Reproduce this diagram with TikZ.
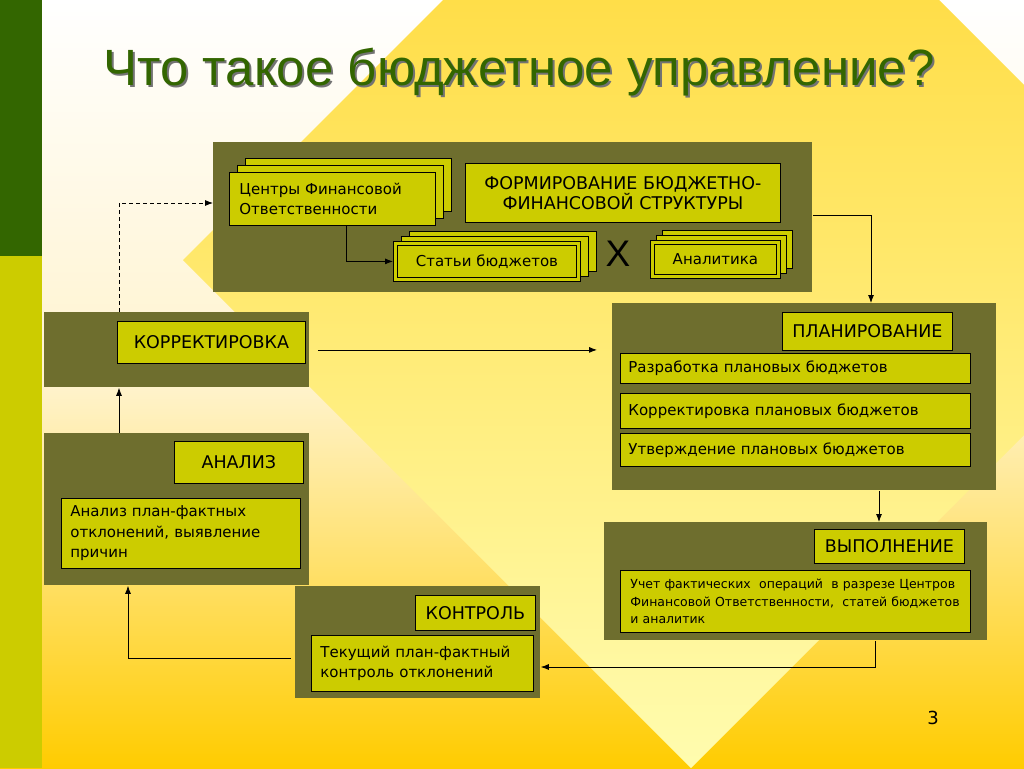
\documentclass[tikz,border=0pt]{standalone}
\usepackage{fontspec}
\setmainfont{DejaVu Sans}
\newfontfamily\headfont{Liberation Sans}
\usetikzlibrary{calc,arrows.meta,positioning}
\definecolor{panelcol}{RGB}{110,110,46}
\definecolor{boxcol}{RGB}{204,204,0}
\definecolor{titlegreen}{RGB}{51,102,0}
\definecolor{barcol}{RGB}{204,204,0}
\definecolor{gold}{RGB}{255,204,0}
\definecolor{cream}{RGB}{255,243,205}
\definecolor{diamondtop}{RGB}{255,212,40}
\definecolor{diamondbottom}{RGB}{255,252,175}

\begin{document}
\begin{tikzpicture}[x=1pt, y=-1pt, >={Latex[length=8pt,width=6pt]}, line width=0.8pt, every node/.style={inner sep=0pt}]
    % Define styles for panels, boxes and texts
    \tikzstyle{panel} = [fill=panelcol, anchor=north west]
    \tikzstyle{box} = [draw=black, fill=boxcol, anchor=north west]
    \tikzstyle{head} = [box, align=center, font=\fontsize{17.5}{20}\selectfont]
    \tikzstyle{note} = [box, align=left, inner xsep=8pt, font=\fontsize{15}{20.5}\selectfont]

    % Background
    \useasboundingbox (0,0) rectangle (1024,768);
    \shade[top color=white, bottom color=gold, middle color=cream] (0,0) rectangle (1024,768);
    \begin{scope}
        \clip (0,0) rectangle (1024,768);
        \shade[top color=diamondtop, bottom color=diamondbottom] (691,-248) -- (1199,260) -- (691,768) -- (183,260) -- cycle;
    \end{scope}
    \fill[titlegreen] (0,0) rectangle (42,256);
    \fill[barcol] (0,256) rectangle (42,768);

    % Title
    \node[text=black!55, font=\headfont\fontsize{51}{60}\selectfont] (titleshadow) at (521,74) {Что такое бюджетное управление?};
    \node[text=titlegreen, font=\headfont\fontsize{51}{60}\selectfont] (title) at (519,72) {Что такое бюджетное управление?};

    % Panels
    \node[panel, minimum width=599pt, minimum height=150pt] (formpanel) at (213,142) {};
    \node[panel, minimum width=265pt, minimum height=75pt] (korrpanel) at (44,312) {};
    \node[panel, minimum width=265pt, minimum height=152pt] (anpanel) at (44,433) {};
    \node[panel, minimum width=245pt, minimum height=112pt] (ctrlpanel) at (295,586) {};
    \node[panel, minimum width=384pt, minimum height=187pt] (planpanel) at (612,303) {};
    \node[panel, minimum width=383pt, minimum height=118pt] (execpanel) at (604,522) {};

    % Budget structure
    \node[box, minimum width=206pt, minimum height=53pt] (cfoback2) at (245,158) {};
    \node[box, minimum width=206pt, minimum height=53pt] (cfoback1) at (237,165) {};
    \node[note, text width=186pt, minimum height=53pt, inner xsep=10pt] (cfo) at (229,172) {Центры Финансовой\\Ответственности};
    \node[head, minimum width=315pt, minimum height=59pt] (formtitle) at (465,163) {ФОРМИРОВАНИЕ БЮДЖЕТНО-\\ФИНАНСОВОЙ СТРУКТУРЫ};

    \node[box, minimum width=187pt, minimum height=40pt] (statback2) at (409,231) {};
    \node[box, minimum width=187pt, minimum height=40pt] (statback1) at (401,236) {};
    \node[box, minimum width=187pt, minimum height=40pt, font=\fontsize{15}{18}\selectfont] (stat) at (393,241) {Статьи бюджетов};
    \draw ($(stat.north west)+(4,4)$) rectangle ($(stat.south east)+(-4,-4)$);

    \node[font=\headfont\fontsize{37}{37}\selectfont] (times) at (618,254) {X};

    \node[box, minimum width=130pt, minimum height=38pt] (anlback2) at (662,230) {};
    \node[box, minimum width=130pt, minimum height=38pt] (anlback1) at (656,235) {};
    \node[box, minimum width=130pt, minimum height=38pt, font=\fontsize{15}{18}\selectfont] (anl) at (650,240) {Аналитика};
    \draw ($(anl.north west)+(4,4)$) rectangle ($(anl.south east)+(-4,-4)$);

    % Stages
    \node[head, minimum width=188pt, minimum height=42pt] (korrtitle) at (117,321) {КОРРЕКТИРОВКА};

    \node[head, minimum width=170pt, minimum height=38pt] (plantitle) at (782,312) {ПЛАНИРОВАНИЕ};
    \node[note, text width=334pt, minimum height=30pt] (plandev) at (620,353) {Разработка плановых бюджетов};
    \node[note, text width=334pt, minimum height=35pt] (plancorr) at (620,393) {Корректировка плановых бюджетов};
    \node[note, text width=334pt, minimum height=33pt] (planappr) at (620,433) {Утверждение плановых бюджетов};

    \node[head, minimum width=150pt, minimum height=34pt] (exectitle) at (814,529) {ВЫПОЛНЕНИЕ};
    \node[note, text width=330pt, minimum height=62pt, inner xsep=10pt, font=\fontsize{12.5}{17.5}\selectfont] (exectext) at (620,570) {Учет фактических\ \ операций\ \ в разрезе Центров\\Финансовой Ответственности,\ \ статей бюджетов\\и аналитик};

    \node[head, minimum width=129pt, minimum height=42pt] (antitle) at (174,441) {АНАЛИЗ};
    \node[note, text width=221pt, minimum height=70pt, inner xsep=9pt] (antext) at (61,498) {Анализ план-фактных\\отклонений, выявление\\причин};

    \node[head, minimum width=120pt, minimum height=35pt] (ctrltitle) at (415,595) {КОНТРОЛЬ};
    \node[note, text width=204pt, minimum height=56pt, inner xsep=9pt] (ctrltext) at (311,635) {Текущий план-фактный\\контроль отклонений};

    \node[font=\fontsize{18}{20}\selectfont] (pagenum) at (933,718) {3};

    % Turning points of the connectors
    \coordinate (dashturn) at (119,203);
    \coordinate (cfodrop) at (346,0);
    \coordinate (planturn) at (871,215);
    \coordinate (execdrop) at (879,0);
    \coordinate (ctrlturn) at (875,667);
    \coordinate (anturn) at (128,658);
    \coordinate (korrup) at (119,0);

    % Draw edges
    \draw[dash pattern=on 4pt off 3pt, ->] (korrpanel.north -| dashturn) |- (formpanel.west |- dashturn);
    \draw[->] (cfo.south -| cfodrop) |- (stat.west);
    \draw[->] (formpanel.east |- planturn) -- (planturn) -- (planpanel.north -| planturn);
    \draw[->, shorten <=8pt, shorten >=15pt] (korrpanel.east) -- (planpanel.west |- korrpanel.east);
    \draw[->] (planpanel.south -| execdrop) -- (execpanel.north -| execdrop);
    \draw[->] (execpanel.south -| ctrlturn) -- (ctrlturn) -- (ctrlpanel.east |- ctrlturn);
    \draw[->, shorten <=4pt] (ctrlpanel.west |- anturn) -- (anturn) -- (anpanel.south -| anturn);
    \draw[->] (anpanel.north -| korrup) -- (korrpanel.south -| korrup);
\end{tikzpicture}
\end{document}
